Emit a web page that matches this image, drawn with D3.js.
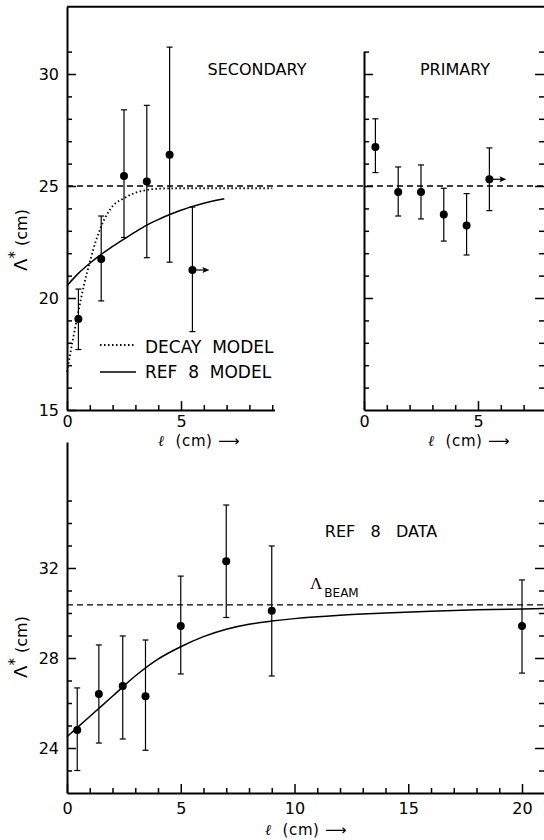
<!DOCTYPE html>
<html><head><meta charset="utf-8">
<script src="https://cdn.jsdelivr.net/npm/d3@7/dist/d3.min.js"></script>
<style>
body{margin:0;background:#fff}
svg text{font-family:"DejaVu Sans",sans-serif;fill:#000}
</style></head><body>
<svg id="c" width="544" height="840"></svg>
<script>
// ---------- data ----------
// Secondary panel (top left)
const secX  = [0.5, 1.5, 2.5, 3.5, 4.5, 5.5];
const secY  = [19.06, 21.74, 25.45, 25.2, 26.4, 21.25];
const secHi = [20.4, 23.66, 28.4, 28.6, 31.2, 24.06];
const secLo = [17.7, 19.87, 22.7, 21.8, 21.6, 18.5];
const secLimit = [false, false, false, false, false, true];
// Primary panel (top right)
const priX  = [0.5, 1.5, 2.5, 3.5, 4.5, 5.5];
const priY  = [26.74, 24.73, 24.73, 23.73, 23.24, 25.3];
const priHi = [28.0, 25.85, 25.94, 24.9, 24.66, 26.7];
const priLo = [25.6, 23.66, 23.53, 22.54, 21.92, 23.9];
const priLimit = [false, false, false, false, false, true];
// Model curves (top left)
const decayX = [0, 0.25, 0.5, 0.75, 1, 1.25, 1.5, 2, 2.5, 3, 3.5, 4, 5, 6, 7, 8, 9];
const decayY = [16.7, 18.1, 19.4, 20.6, 21.6, 22.5, 23.2, 24.1, 24.45, 24.7, 24.82, 24.88, 24.9, 24.9, 24.9, 24.9, 24.9];
const ref8ModX = [0, 0.5, 1, 1.5, 2, 2.5, 3, 3.5, 4, 4.5, 5, 5.5, 6, 6.5, 6.9];
const ref8ModY = [20.55, 21.1, 21.55, 21.95, 22.3, 22.63, 22.95, 23.25, 23.5, 23.73, 23.92, 24.09, 24.23, 24.35, 24.43];
const topBeam = 25;
// Ref 8 data (bottom)
const refX  = [0.45, 1.4, 2.45, 3.45, 5, 7, 9, 20];
const refY  = [24.8, 26.4, 26.76, 26.3, 29.42, 32.3, 30.1, 29.42];
const refHi = [26.67, 28.58, 28.98, 28.8, 31.64, 34.8, 32.98, 31.47];
const refLo = [23.0, 24.22, 24.4, 23.9, 27.29, 29.8, 27.2, 27.33];
const refCurveX = [0, 1, 2, 3, 4, 5, 6, 7, 8, 9, 10, 12, 14, 16, 18, 20, 21.05];
const refCurveY = [24.5, 25.4, 26.3, 27.2, 27.95, 28.5, 28.95, 29.28, 29.5, 29.64, 29.75, 29.9, 30.0, 30.08, 30.14, 30.18, 30.2];
const bottomBeam = 30.36;
// ticks
const topYMajor = [15, 20, 25, 30];
const topYMinor = d3.range(16, 32).filter(v => !topYMajor.includes(v));
const priYMajor = [20, 25, 30];
const priYMinor = d3.range(16, 32).filter(v => !priYMajor.includes(v));
const topXMajor = [0, 5];
const secXMinor = [1, 2, 3, 4, 6, 7, 8, 9];
const priXMinor = [1, 2, 3, 4, 6, 7];
const botYMajor = [24, 28, 32];
const botYMinor = [23, 25, 26, 27, 29, 30, 31, 33, 34, 35];
const botXMajor = [0, 5, 10, 15, 20];
const botXMinor = d3.range(1, 20).filter(v => !botXMajor.includes(v));

// ---------- scales ----------
const W = 544;
const xSec = d3.scaleLinear().domain([0, 9.1]).range([67, 274.5]);
const ySec = d3.scaleLinear().domain([15, 33]).range([410, 6.8]);
const xPri = d3.scaleLinear().domain([0, 7.9]).range([364, 544.1]);
const yPri = d3.scaleLinear().domain([15, 31]).range([410, 51.6]);
const xRef = d3.scaleLinear().domain([0, 21.05]).range([67, 545.9]);
const yRef = d3.scaleLinear().domain([22, 37.6]).range([793, 442]);

const svg = d3.select("#c");

function styleAxis(g) {
  g.attr("font-family", "DejaVu Sans").attr("font-size", 16);
  g.selectAll(".tick line").attr("stroke", "#000").attr("stroke-width", 1.5);
  g.select(".domain").attr("stroke", "#000").attr("stroke-width", 2);
  g.selectAll("text").attr("fill", "#000").attr("font-size", 16);
}
function yAxis(scale, x0, majors, minors, labels, side) {
  const mk = side === "right" ? d3.axisRight : d3.axisLeft;
  const g1 = svg.append("g").attr("transform", `translate(${x0},0)`)
    .call(mk(scale).tickValues(minors).tickSize(-5).tickFormat(""));
  g1.select(".domain").remove(); styleAxis(g1);
  const g2 = svg.append("g").attr("transform", `translate(${x0},0)`)
    .call(mk(scale).tickValues(majors).tickSizeInner(-9).tickSizeOuter(0).tickPadding(8)
      .tickFormat(labels ? d3.format("d") : ""));
  styleAxis(g2);
  if (side === "right") g2.select(".domain").remove();
}
function xAxis(scale, y0, majors, minors, pad) {
  const g1 = svg.append("g").attr("transform", `translate(0,${y0})`)
    .call(d3.axisBottom(scale).tickValues(minors).tickSize(-5).tickFormat(""));
  g1.select(".domain").remove(); styleAxis(g1);
  const g2 = svg.append("g").attr("transform", `translate(0,${y0})`)
    .call(d3.axisBottom(scale).tickValues(majors).tickSizeInner(-9).tickSizeOuter(0).tickPadding(pad)
      .tickFormat(d3.format("d")));
  styleAxis(g2);
}

// ---------- top-left frame / axes ----------
svg.append("line").attr("x1", xSec(0)).attr("x2", W).attr("y1", ySec(33)).attr("y2", ySec(33))
  .attr("stroke", "#000").attr("stroke-width", 2);
yAxis(ySec, xSec(0), topYMajor, topYMinor, true, "left");
xAxis(xSec, ySec(15), topXMajor, secXMinor, 6);
// primary axes
yAxis(yPri, xPri(0), priYMajor, priYMinor, false, "left");
yAxis(yPri, W, priYMajor, priYMinor, false, "right");
xAxis(xPri, yPri(15), topXMajor, priXMinor, 6);
// bottom axes
yAxis(yRef, xRef(0), botYMajor, botYMinor, true, "left");
yAxis(yRef, W, botYMajor, botYMinor, false, "right");
xAxis(xRef, yRef(22), botXMajor, botXMinor, 10);

// ---------- reference dashed lines ----------
svg.append("line").attr("x1", xSec(0)).attr("x2", W).attr("y1", ySec(topBeam)).attr("y2", ySec(topBeam))
  .attr("stroke", "#000").attr("stroke-width", 1.3).attr("stroke-dasharray", "6,4");
svg.append("line").attr("x1", xRef(0)).attr("x2", W).attr("y1", yRef(bottomBeam)).attr("y2", yRef(bottomBeam))
  .attr("stroke", "#000").attr("stroke-width", 1.3).attr("stroke-dasharray", "6,4");

// ---------- curves ----------
const lineSec = d3.line().x(d => xSec(d[0])).y(d => ySec(d[1])).curve(d3.curveMonotoneX);
svg.append("path").attr("d", lineSec(decayX.map((x, i) => [x, decayY[i]])))
  .attr("fill", "none").attr("stroke", "#000").attr("stroke-width", 1.8).attr("stroke-dasharray", "1.5,2.5");
svg.append("path").attr("d", lineSec(ref8ModX.map((x, i) => [x, ref8ModY[i]])))
  .attr("fill", "none").attr("stroke", "#000").attr("stroke-width", 1.5);
const lineRef = d3.line().x(d => xRef(d[0])).y(d => yRef(d[1])).curve(d3.curveMonotoneX);
svg.append("path").attr("d", lineRef(refCurveX.map((x, i) => [x, refCurveY[i]])))
  .attr("fill", "none").attr("stroke", "#000").attr("stroke-width", 1.5);

// ---------- points with error bars ----------
function points(xs, ys, his, los, lims, xs_, ys_) {
  const g = svg.append("g");
  xs.forEach((x, i) => {
    const cx = xs_(x), cy = ys_(ys[i]), yh = ys_(his[i]), yl = ys_(los[i]);
    g.append("line").attr("x1", cx).attr("x2", cx).attr("y1", yh).attr("y2", yl)
      .attr("stroke", "#000").attr("stroke-width", 1.2);
    [yh, yl].forEach(yy => g.append("line").attr("x1", cx - 3).attr("x2", cx + 3).attr("y1", yy).attr("y2", yy)
      .attr("stroke", "#000").attr("stroke-width", 1.2));
    g.append("circle").attr("cx", cx).attr("cy", cy).attr("r", 4).attr("fill", "#000");
    if (lims && lims[i]) {
      g.append("line").attr("x1", cx).attr("x2", cx + 13).attr("y1", cy).attr("y2", cy)
        .attr("stroke", "#000").attr("stroke-width", 1.2);
      g.append("path").attr("d", `M${cx + 17},${cy} L${cx + 10},${cy - 3} L${cx + 11.5},${cy} L${cx + 10},${cy + 3} Z`)
        .attr("fill", "#000");
    }
  });
}
points(secX, secY, secHi, secLo, secLimit, xSec, ySec);
points(priX, priY, priHi, priLo, priLimit, xPri, yPri);
points(refX, refY, refHi, refLo, null, xRef, yRef);

// ---------- text ----------
function txt(x, y, s, size, anchor) {
  return svg.append("text").attr("x", x).attr("y", y).attr("font-size", size)
    .attr("text-anchor", anchor || "start").style("white-space", "pre").text(s);
}
txt(257, 75, "SECONDARY", 16, "middle");
txt(455, 75, "PRIMARY", 16, "middle");
txt(381, 537, "REF   8   DATA", 16, "middle");

// legend
svg.append("line").attr("x1", 100).attr("x2", 136).attr("y1", 345).attr("y2", 345)
  .attr("stroke", "#000").attr("stroke-width", 1.8).attr("stroke-dasharray", "1.5,2.5");
svg.append("line").attr("x1", 100).attr("x2", 136).attr("y1", 372).attr("y2", 372)
  .attr("stroke", "#000").attr("stroke-width", 1.5);
txt(145, 353, "DECAY  MODEL", 17);
txt(145, 378, "REF  8  MODEL", 17);

// axis titles
function xTitle(cx, y) {
  const t = svg.append("text").attr("x", cx).attr("y", y).attr("font-size", 15)
    .attr("text-anchor", "middle").style("white-space", "pre").attr("letter-spacing", 0.6);
  t.append("tspan").attr("font-family", "DejaVu Serif").attr("font-style", "italic").text("ℓ");
  t.append("tspan").text("  (cm) ⟶");
}
xTitle(199, 446);
xTitle(469, 446);
xTitle(306, 835);
function yTitle(cx, cy) {
  const t = svg.append("text").attr("transform", `translate(${cx},${cy}) rotate(-90)`)
    .attr("font-size", 16).attr("text-anchor", "middle");
  t.append("tspan").attr("font-size", 18).text("Λ");
  t.append("tspan").attr("font-size", 15).attr("dy", -7).text("*");
  t.append("tspan").attr("dy", 7).text(" (cm)");
}
yTitle(27, 240);
yTitle(27, 647);

// Lambda beam label
const lb = svg.append("text").attr("x", 310).attr("y", 589).attr("font-size", 17);
lb.append("tspan").attr("font-family", "Liberation Serif").text("Λ");
lb.append("tspan").attr("font-size", 12).attr("dy", 8).attr("dx", 2).text("BEAM");
</script>
</body></html>
